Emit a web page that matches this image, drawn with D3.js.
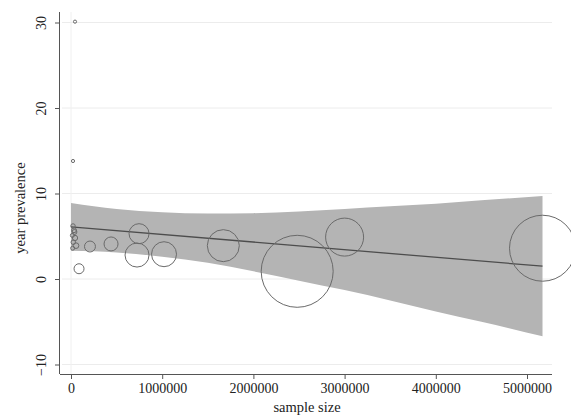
<!DOCTYPE html>
<html>
<head>
<meta charset="utf-8">
<script src="https://cdn.jsdelivr.net/npm/d3@7"></script>
<style>
  html, body { margin: 0; padding: 0; background: #fff; }
  svg { display: block; }
  text { font-family: "Liberation Serif", "Times New Roman", serif; fill: #222; }
</style>
</head>
<body>
<svg id="chart" width="571" height="417"></svg>
<script>
// Studies: sample size, year prevalence (%), meta-regression weight
const sampleSize = [44000, 22000, 88000, 208000, 439000, 724000, 746000, 1020000, 1670000, 2480000, 3000000, 5170000,
                    22000, 33000, 15000, 44000, 25000, 55000, 18000, 38000];
const prevalence = [30.1, 13.8, 1.2, 3.8, 4.1, 2.8, 5.3, 2.9, 3.9, 0.9, 4.9, 3.6,
                    6.2, 5.7, 5.1, 4.8, 4.3, 3.9, 3.6, 5.5];
const weight = [2.5, 2.5, 25, 30, 49, 144, 100, 156, 256, 1296, 361, 1089,
                5, 6, 4, 7, 5, 8, 4, 6];

// Fitted line and its confidence band (sample size, lower, upper)
const fitX = [0, 5170000];
const fitY = [6.1, 1.5];
const bandX = [0, 500000, 1000000, 1500000, 2000000, 2500000, 3000000, 3500000, 4000000, 4500000, 5170000];
const bandLow = [3.3, 3.1, 2.6, 1.9, 0.9, -0.2, -1.3, -2.5, -3.8, -5.0, -6.7];
const bandHigh = [8.9, 8.2, 7.8, 7.65, 7.7, 7.9, 8.2, 8.5, 8.8, 9.2, 9.7];

const xTicks = [0, 1000000, 2000000, 3000000, 4000000, 5000000];
const yTicks = [-10, 0, 10, 20, 30];

const svg = d3.select("#chart");

const x = d3.scaleLinear().domain([0, 5000000]).range([71, 527]);
const y = d3.scaleLinear().domain([-10, 30]).range([364.5, 22.5]);
const r = d3.scaleSqrt().domain([0, 1296]).range([0, 36]);

const plotLeft = 60, plotRight = 552, plotTop = 12, plotBottom = 374;

// Grid lines
svg.append("g")
  .selectAll("line")
  .data(yTicks)
  .join("line")
  .attr("x1", plotLeft + 2).attr("x2", plotRight)
  .attr("y1", d => y(d)).attr("y2", d => y(d))
  .attr("stroke", "#ececec").attr("stroke-width", 1);
svg.append("line")
  .attr("x1", x(0)).attr("x2", x(0))
  .attr("y1", plotTop).attr("y2", plotBottom)
  .attr("stroke", "#f0f0f0").attr("stroke-width", 1);

// Confidence band
const bandData = bandX.map((d, i) => ({ x: d, lo: bandLow[i], hi: bandHigh[i] }));
svg.append("path")
  .datum(bandData)
  .attr("d", d3.area().x(d => x(d.x)).y0(d => y(d.lo)).y1(d => y(d.hi)).curve(d3.curveMonotoneX))
  .attr("fill", "#b4b4b4");

// Fitted line
svg.append("path")
  .datum(fitX.map((d, i) => ({ x: d, y: fitY[i] })))
  .attr("d", d3.line().x(d => x(d.x)).y(d => y(d.y)))
  .attr("fill", "none").attr("stroke", "#4d4d4d").attr("stroke-width", 1.3);

// Study bubbles
const studies = sampleSize.map((d, i) => ({ n: d, p: prevalence[i], w: weight[i] }));
svg.append("g")
  .selectAll("circle")
  .data(studies)
  .join("circle")
  .attr("cx", d => x(d.n))
  .attr("cy", d => y(d.p))
  .attr("r", d => r(d.w))
  .attr("fill", "none")
  .attr("stroke", "#6a6a6a")
  .attr("stroke-width", 1);

// Axes
const xAxis = d3.axisBottom(x).tickValues(xTicks).tickSize(5).tickPadding(4).tickFormat(d3.format("d"));
const gx = svg.append("g").attr("transform", `translate(0,${plotBottom})`).call(xAxis);
gx.select(".domain").attr("d", `M${plotLeft},0.5H${plotRight}`).attr("stroke", "#555");
gx.selectAll(".tick line").attr("stroke", "#555");
gx.selectAll(".tick text").attr("font-size", 14).attr("font-family", "Liberation Serif").attr("fill", "#222");

const yAxis = d3.axisLeft(y).tickValues(yTicks).tickSize(5).tickFormat(d3.format("d"));
const gy = svg.append("g").attr("transform", `translate(${plotLeft},0)`).call(yAxis);
gy.select(".domain").attr("d", `M-0.5,${plotTop}V${plotBottom}`).attr("stroke", "#555");
gy.selectAll(".tick line").attr("stroke", "#555");
gy.selectAll(".tick text")
  .attr("font-size", 14).attr("font-family", "Liberation Serif").attr("fill", "#222")
  .attr("x", null).attr("dy", null)
  .attr("text-anchor", "middle")
  .attr("transform", "translate(-14,0) rotate(-90)");

// Axis titles
svg.append("text")
  .attr("x", 307).attr("y", 412)
  .attr("text-anchor", "middle")
  .attr("font-size", 14.5)
  .text("sample size");
svg.append("text")
  .attr("transform", `translate(25,208) rotate(-90)`)
  .attr("text-anchor", "middle")
  .attr("font-size", 14.5)
  .text("year prevalence");
</script>
</body>
</html>
